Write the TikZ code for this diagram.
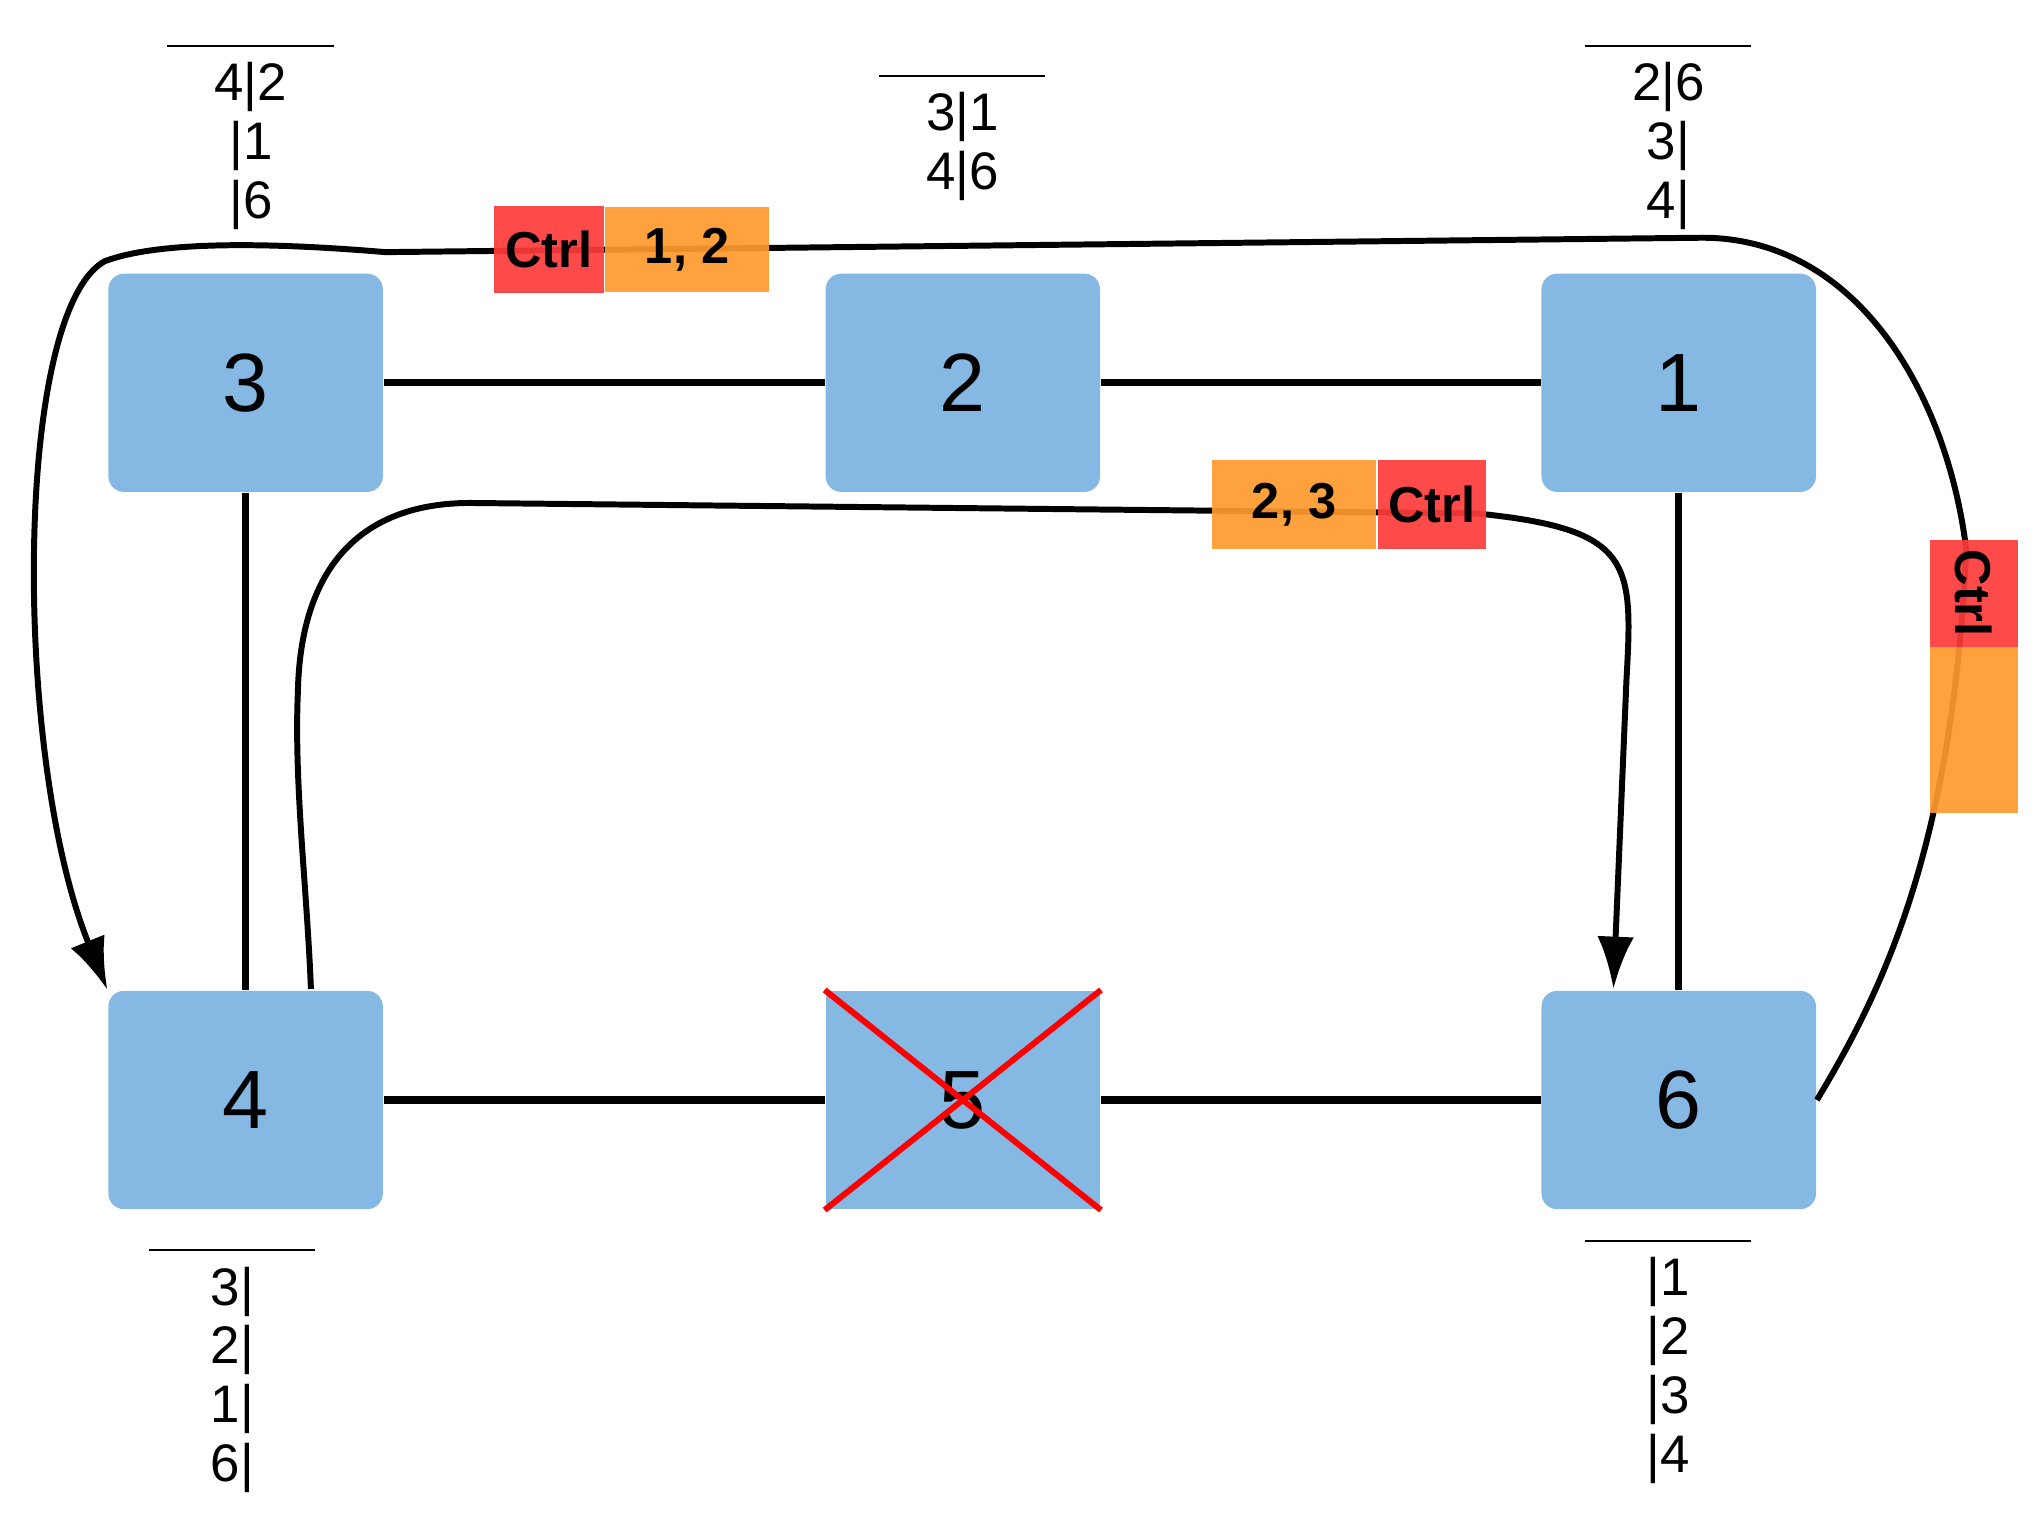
\documentclass[tikz,border=0pt]{standalone}
\usepackage{fontspec}
\setmainfont{Liberation Sans}
\usetikzlibrary{positioning,arrows.meta}
\definecolor{swblue}{HTML}{85B9E3}
\definecolor{tagred}{HTML}{FF3B3B}
\definecolor{tagorange}{HTML}{FF9A2E}
\begin{document}
\begin{tikzpicture}[x=0.01cm,y=-0.01cm,
		sw/.style={fill=swblue, rounded corners=0.12cm, minimum width=2.1cm, minimum height=1.67cm, font=\fontsize{18}{18}\selectfont},
		tbl/.style={align=center, font=\fontsize{11.5}{12.8}\selectfont, inner sep=0pt},
		tag/.style={fill=#1, fill opacity=0.92, text opacity=1, inner sep=0pt, font=\bfseries\fontsize{11}{11}\selectfont},
		link/.style={line width=1.6pt},
		flow/.style={line width=1.3pt, -{Latex[length=4mm,width=2.8mm]}}]
	\useasboundingbox (0,0) rectangle (1560,1170);
	% switches
	\node[sw] (s3) at (188,293) {3};
	\node[sw] (s2) at (737,293) {2};
	\node[sw] (s1) at (1285,293) {1};
	\node[sw] (s4) at (188,842) {4};
	\node[sw, rounded corners=0pt] (s5) at (737,842) {5};
	\node[sw] (s6) at (1285,842) {6};
	\draw[red, line width=1.3pt] (s5.north west) -- (s5.south east) (s5.south west) -- (s5.north east);
	% links
	\path[link]
	(s3) edge (s2)
	(s2) edge (s1)
	(s4) edge (s5)
	(s5) edge (s6);
	\draw[link] (s3.south) -- (s4.north);
	\draw[link] (s1.south) -- (s6.north);
	% tables
	\node[tbl, anchor=north] (t3) at (192,47) {4|2\\|1\\|6};
	\draw (128,35) -- (256,35);
	\node[tbl, anchor=north] (t2) at (737,70) {3|1\\4|6};
	\draw (673,58) -- (800,58);
	\node[tbl, anchor=north] (t1) at (1277,47) {2|6\\3|\\4|};
	\draw (1213,35) -- (1340,35);
	\node[tbl, anchor=north] (t4) at (178,969) {3|\\2|\\1|\\6|};
	\draw (114,957) -- (241,957);
	\node[tbl, anchor=north] (t6) at (1277,962) {|1\\|2\\|3\\|4};
	\draw (1213,950) -- (1340,950);
	% flows
	\draw[flow] (s6.east) .. controls (1440,760) and (1495,650) .. (1505,420)
		.. controls (1490,300) and (1420,180) .. (1300,182) -- (295,193)
		.. controls (200,185) and (120,185) .. (80,200)
		.. controls (10,240) and (10,580) .. (s4.north west);
	\draw[flow] (238,757) .. controls (235,680) and (225,600) .. (228,530)
		.. controls (230,430) and (280,385) .. (360,385) -- (1130,393)
		.. controls (1250,405) and (1250,430) .. (1245,520) -- (1235,757);
	% tags
	\node[tag=tagred, minimum width=0.84cm, minimum height=0.67cm] (c1) at (420,191) {Ctrl};
	\node[tag=tagorange, minimum width=1.25cm, minimum height=0.65cm, right=0 of c1] (f1) {1, 2};
	\node[tag=tagred, minimum width=0.83cm, minimum height=0.68cm] (c2) at (1096,386) {Ctrl};
	\node[tag=tagorange, minimum width=1.25cm, minimum height=0.68cm, left=0 of c2] (f2) {2, 3};
	\node[tag=tagred, rotate=-90, minimum width=0.82cm, minimum height=0.67cm] (c3) at (1511,454) {Ctrl};
	\node[tag=tagorange, minimum width=0.67cm, minimum height=1.27cm] (f3) at (1511,559) {};
\end{tikzpicture}
\end{document}
